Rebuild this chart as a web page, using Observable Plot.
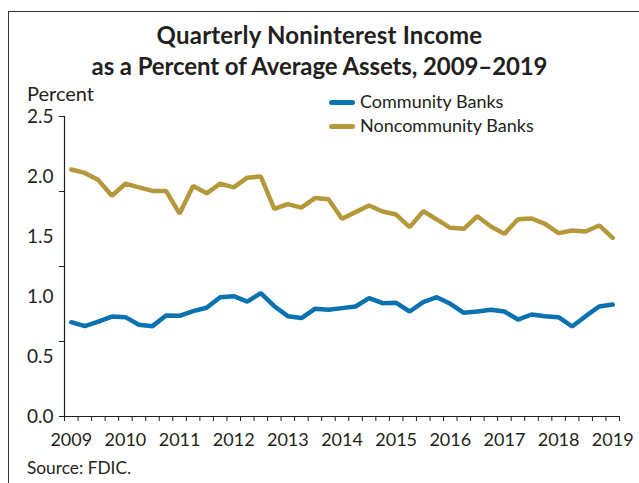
<!DOCTYPE html>
<html>
<head>
<meta charset="utf-8">
<script src="https://cdn.jsdelivr.net/npm/d3@7"></script>
<script src="https://cdn.jsdelivr.net/npm/@observablehq/plot@0.6"></script>
<style>
  html, body { margin: 0; padding: 0; background: #fff; }
  #wrap { position: relative; width: 639px; height: 483px; overflow: hidden; font-family: Lato, "Open Sans", sans-serif; color: #231f20; }
  #frame { position: absolute; left: 8px; top: 11px; width: 700px; height: 500px; border-left: 1.3px solid #333; border-top: 1.3px solid #333; }
  #chart { position: absolute; left: 0; top: 0; }
  .title { position: absolute; left: 0; width: 639px; text-align: center; font-weight: bold; font-size: 24px; white-space: nowrap; }
  .lab { position: absolute; white-space: nowrap; line-height: 1; }
  .sw { position: absolute; width: 26px; height: 5px; border-radius: 3px; }
</style>
</head>
<body>
<div id="wrap">
  <div id="frame"></div>
  <div id="chart"></div>
  <div class="title" style="top:20px; letter-spacing:0.2px;">Quarterly Noninterest Income</div>
  <div class="title" style="top:51px; letter-spacing:-0.1px;">as a Percent of Average Assets, 2009–2019</div>
  <div class="lab" style="left:27px; top:83px; font-size:20px;">Percent</div>
  <div class="sw" style="left:329px; top:100px; background:#0a72b0;"></div>
  <div class="lab" style="left:360px; top:92px; font-size:18px;">Community Banks</div>
  <div class="sw" style="left:329px; top:124px; background:#b4983a;"></div>
  <div class="lab" style="left:360px; top:116px; font-size:18px;">Noncommunity Banks</div>
  <div class="lab" style="left:27px; top:459px; font-size:17.3px;">Source: FDIC.</div>
</div>
<script>
// Categories: quarters 2009Q1 .. 2019Q1
const quarters = [];
for (let y = 2009; y <= 2019; y++) for (let q = 1; q <= 4; q++) if (!(y === 2019 && q > 1)) quarters.push(y + "Q" + q);

// Series values (percent of average assets)
const community = [0.786, 0.753, 0.790, 0.833, 0.828, 0.764, 0.753, 0.842, 0.839, 0.878,
  0.906, 0.994, 1.003, 0.958, 1.028, 0.919, 0.836, 0.820, 0.897, 0.889,
  0.903, 0.917, 0.986, 0.944, 0.947, 0.875, 0.953, 0.994, 0.939, 0.864,
  0.875, 0.889, 0.875, 0.808, 0.850, 0.836, 0.828, 0.750, 0.836, 0.917, 0.933];
const noncommunity = [2.058, 2.030, 1.970, 1.840, 1.940, 1.910, 1.880, 1.880, 1.690, 1.920,
  1.860, 1.940, 1.910, 1.990, 2.000, 1.730, 1.770, 1.740, 1.820, 1.810,
  1.648, 1.703, 1.758, 1.708, 1.683, 1.578, 1.711, 1.642, 1.572, 1.564,
  1.669, 1.583, 1.522, 1.644, 1.650, 1.606, 1.528, 1.550, 1.542, 1.592, 1.489];

// Axis ticks
const yTickMarks = [0, 0.625, 1.25, 1.875, 2.5];
const yTickLabels = [0, 0.5, 1.0, 1.5, 2.0, 2.5];
const yearLabels = ["2009","2010","2011","2012","2013","2014","2015","2016","2017","2018","2019"];

const rows = quarters.map((q, i) => ({i, q, community: community[i], noncommunity: noncommunity[i]}));
const xBoundaries = d3.range(-0.5, quarters.length, 1);
const yearPos = yearLabels.map(y => quarters.indexOf(y + "Q1"));

const chart = Plot.plot({
  width: 639,
  height: 483,
  marginLeft: 64,
  marginRight: 20,
  marginTop: 116,
  marginBottom: 67,
  style: {fontFamily: "Lato, 'Open Sans', sans-serif", fontSize: "18px", color: "#231f20", background: "transparent"},
  x: {type: "linear", domain: [-0.5, quarters.length - 0.5]},
  y: {domain: [0, 2.5]},
  marks: [
    Plot.axisY(yTickMarks, {tickSize: 5, tickFormat: () => "", label: null, stroke: "#231f20"}),
    Plot.axisY(yTickLabels, {tickSize: 0, tickPadding: 11, tickFormat: d3.format(".1f"), label: null, fontSize: 19}),
    Plot.axisX(xBoundaries, {tickSize: 5, tickFormat: () => "", label: null, stroke: "#231f20"}),
    Plot.axisX(yearPos, {tickSize: 0, tickPadding: 17, tickFormat: i => quarters[i].slice(0, 4), label: null, fontSize: 18}),
    Plot.ruleX([-0.5], {stroke: "#231f20", strokeWidth: 1.2}),
    Plot.ruleY([0], {stroke: "#231f20", strokeWidth: 1.2}),
    Plot.lineY(rows, {x: "i", y: "noncommunity", stroke: "#b4983a", strokeWidth: 4.5, strokeLinejoin: "miter"}),
    Plot.lineY(rows, {x: "i", y: "community", stroke: "#0a72b0", strokeWidth: 4.5, strokeLinejoin: "miter"})
  ]
});
document.getElementById("chart").appendChild(chart);
</script>
</body>
</html>
